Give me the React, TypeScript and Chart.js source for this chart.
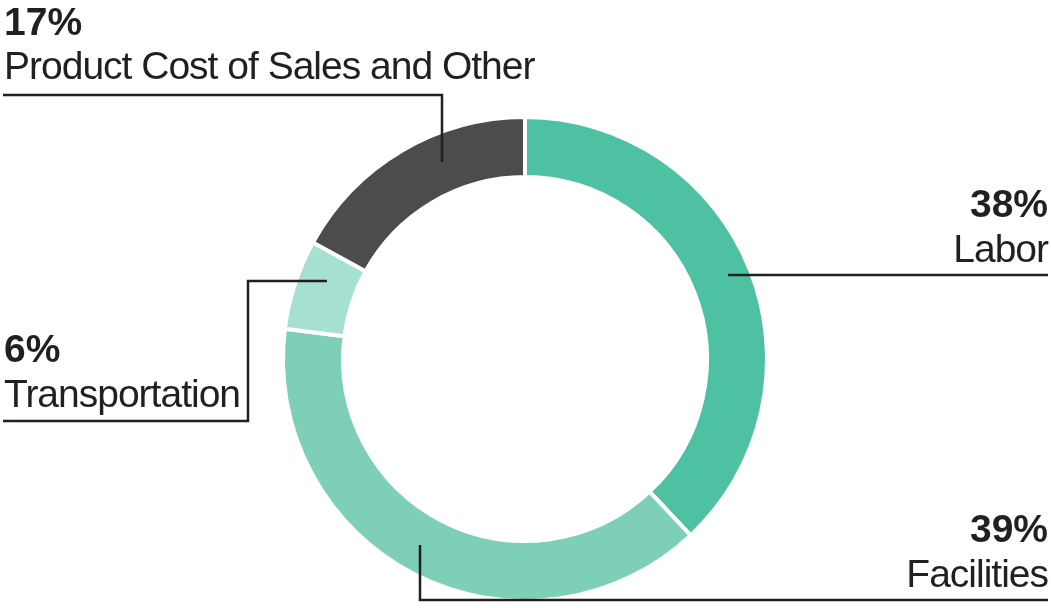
import { useEffect, useRef } from 'react'
import { Chart, DoughnutController, ArcElement, Plugin } from 'chart.js'

Chart.register(DoughnutController, ArcElement)

const categories = ['Labor', 'Facilities', 'Transportation', 'Product Cost of Sales and Other']
const shares = [38, 39, 6, 17]
const colors = ['#4dc1a1', '#7dcfb8', '#a6e0d1', '#4d4c4d']

// callout text anchors and leader polylines, canvas px
const callouts = [
  { align: 'right', x: 1048, pctY: 217, nameY: 262, path: [[728, 275], [1048, 275]] },
  { align: 'right', x: 1048, pctY: 542, nameY: 587, path: [[420, 545], [420, 600], [1048, 600]] },
  { align: 'left', x: 4, pctY: 362, nameY: 407, path: [[327, 281], [248, 281], [248, 421], [3, 421]] },
  { align: 'left', x: 4, pctY: 35, nameY: 79, path: [[442, 162], [442, 95], [3, 95]] },
]

const FONT = '"Liberation Sans", Arial, Helvetica, sans-serif'
const INK = '#231f20'

const calloutPlugin: Plugin<'doughnut'> = {
  id: 'callouts',
  afterDraw(chart) {
    const ctx = chart.ctx as CanvasRenderingContext2D & { letterSpacing: string }
    ctx.save()
    ctx.strokeStyle = INK
    ctx.lineWidth = 2.5
    ctx.lineCap = 'butt'
    ctx.lineJoin = 'miter'
    callouts.forEach((c, i) => {
      ctx.beginPath()
      c.path.forEach(([px, py], k) => (k ? ctx.lineTo(px, py) : ctx.moveTo(px, py)))
      ctx.stroke()
      ctx.fillStyle = INK
      ctx.textAlign = c.align as CanvasTextAlign
      ctx.textBaseline = 'alphabetic'
      ctx.letterSpacing = '0px'
      ctx.font = `bold 39px ${FONT}`
      ctx.fillText(`${shares[i]}%`, c.x, c.pctY)
      ctx.letterSpacing = '-1px'
      ctx.font = `39px ${FONT}`
      ctx.fillText(categories[i], c.x, c.nameY)
    })
    ctx.restore()
  },
}

function Donut() {
  const ref = useRef<HTMLCanvasElement>(null)
  const inst = useRef<Chart<'doughnut'> | null>(null)

  useEffect(() => {
    if (!ref.current) return
    if (inst.current) inst.current.destroy()
    inst.current = new Chart(ref.current, {
      type: 'doughnut',
      data: {
        labels: categories,
        datasets: [{
          data: shares,
          backgroundColor: colors,
          borderColor: '#ffffff',
          borderWidth: 4,
        }],
      },
      options: {
        responsive: true,
        maintainAspectRatio: false,
        animation: false,
        cutout: '75.2%',
        layout: { padding: { top: 115, bottom: 5, left: 281, right: 282 } },
        plugins: { legend: { display: false }, tooltip: { enabled: false } },
        events: [],
      },
      plugins: [calloutPlugin],
    })
    return () => inst.current?.destroy()
  }, [])

  return <div style={{ position: 'relative', width: 1051, height: 608 }}><canvas ref={ref} /></div>
}

export default function App() {
  useEffect(() => {
    document.body.style.margin = '0'
  }, [])
  return <Donut />
}
